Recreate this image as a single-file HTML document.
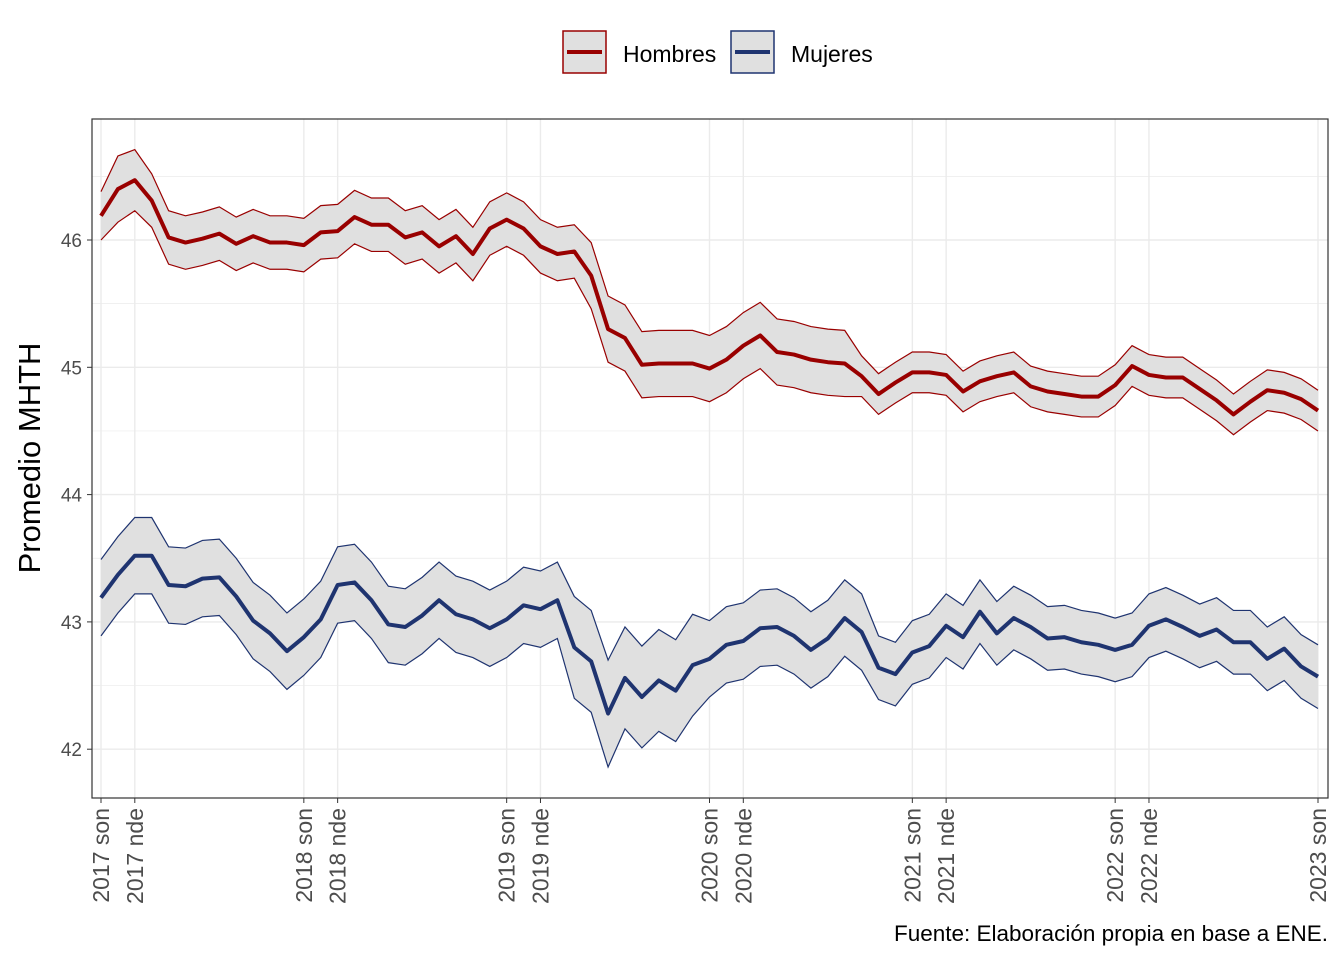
<!DOCTYPE html>
<html><head><meta charset="utf-8"><style>
body{margin:0;background:#fff;font-family:"Liberation Sans",sans-serif}
</style></head><body>
<svg id="chart" width="1344" height="960" xmlns="http://www.w3.org/2000/svg" font-family="Liberation Sans, sans-serif"></svg>
<script>
const periods=["2017 son","2017 nde","2018 son","2018 nde","2019 son","2019 nde","2020 son","2020 nde","2021 son","2021 nde","2022 son","2022 nde","2023 son"];
const periodIdx=[0,2,12,14,24,26,36,38,48,50,60,62,72];
const yTicks=[42,43,44,45,46];
const hombres=[46.19,46.40,46.47,46.31,46.02,45.98,46.01,46.05,45.97,46.03,45.98,45.98,45.96,46.06,46.07,46.18,46.12,46.12,46.02,46.06,45.95,46.03,45.89,46.09,46.16,46.09,45.95,45.89,45.91,45.72,45.30,45.23,45.02,45.03,45.03,45.03,44.99,45.06,45.17,45.25,45.12,45.10,45.06,45.04,45.03,44.93,44.79,44.88,44.96,44.96,44.94,44.81,44.89,44.93,44.96,44.85,44.81,44.79,44.77,44.77,44.86,45.01,44.94,44.92,44.92,44.83,44.74,44.63,44.73,44.82,44.80,44.75,44.66];
const hombresMargin=[0.19,0.26,0.24,0.21,0.21,0.21,0.21,0.21,0.21,0.21,0.21,0.21,0.21,0.21,0.21,0.21,0.21,0.21,0.21,0.21,0.21,0.21,0.21,0.21,0.21,0.21,0.21,0.21,0.21,0.26,0.26,0.26,0.26,0.26,0.26,0.26,0.26,0.26,0.26,0.26,0.26,0.26,0.26,0.26,0.26,0.16,0.16,0.16,0.16,0.16,0.16,0.16,0.16,0.16,0.16,0.16,0.16,0.16,0.16,0.16,0.16,0.16,0.16,0.16,0.16,0.16,0.16,0.16,0.16,0.16,0.16,0.16,0.16];
const mujeres=[43.19,43.37,43.52,43.52,43.29,43.28,43.34,43.35,43.20,43.01,42.91,42.77,42.88,43.02,43.29,43.31,43.17,42.98,42.96,43.05,43.17,43.06,43.02,42.95,43.02,43.13,43.10,43.17,42.80,42.69,42.28,42.56,42.41,42.54,42.46,42.66,42.71,42.82,42.85,42.95,42.96,42.89,42.78,42.87,43.03,42.92,42.64,42.59,42.76,42.81,42.97,42.88,43.08,42.91,43.03,42.96,42.87,42.88,42.84,42.82,42.78,42.82,42.97,43.02,42.96,42.89,42.94,42.84,42.84,42.71,42.79,42.65,42.57];
const mujeresMargin=[0.30,0.30,0.30,0.30,0.30,0.30,0.30,0.30,0.30,0.30,0.30,0.30,0.30,0.30,0.30,0.30,0.30,0.30,0.30,0.30,0.30,0.30,0.30,0.30,0.30,0.30,0.30,0.30,0.40,0.40,0.42,0.40,0.40,0.40,0.40,0.40,0.30,0.30,0.30,0.30,0.30,0.30,0.30,0.30,0.30,0.30,0.25,0.25,0.25,0.25,0.25,0.25,0.25,0.25,0.25,0.25,0.25,0.25,0.25,0.25,0.25,0.25,0.25,0.25,0.25,0.25,0.25,0.25,0.25,0.25,0.25,0.25,0.25];

const NS="http://www.w3.org/2000/svg";
const svg=document.getElementById('chart');
function mk(t,a,p){const e=document.createElementNS(NS,t);for(const k in a)e.setAttribute(k,a[k]);(p||svg).appendChild(e);return e;}
const L=92,R=1328,T=119,B=798;
const X=i=>101+i*(1318-101)/72;
const Y=v=>240+(46-v)*127.3;
for(let v=41.5;v<=46.5;v+=0.5){const y=Y(v);if(y<T||y>B)continue;const g=mk('line',{x1:L,x2:R,y1:y,y2:y,stroke:'#ebebeb','stroke-width':Number.isInteger(v)?1.4:0.7});}
periodIdx.forEach(i=>{const g=mk('line',{x1:X(i),x2:X(i),y1:T,y2:B,stroke:'#ebebeb','stroke-width':1.4});});
function series(vals,marg,col,name){
  let up=vals.map((v,i)=>X(i)+','+Y(v+marg[i]));
  let lo=vals.map((v,i)=>X(i)+','+Y(v-marg[i])).reverse();
  const band=mk('polygon',{points:up.concat(lo).join(' '),fill:'#e0e0e0'});
  
  const u=mk('polyline',{points:up.join(' '),fill:'none',stroke:col,'stroke-width':1.2});
  
  const l=mk('polyline',{points:lo.join(' '),fill:'none',stroke:col,'stroke-width':1.2});
  
  const m=mk('polyline',{points:vals.map((v,i)=>X(i)+','+Y(v)).join(' '),fill:'none',stroke:col,'stroke-width':4,'stroke-linejoin':'round'});
  
}
series(hombres,hombresMargin,'#990000','hombres');
series(mujeres,mujeresMargin,'#1f3470','mujeres');
const fr=mk('rect',{x:L,y:T,width:R-L,height:B-T,fill:'none',stroke:'#333','stroke-width':1.2});

yTicks.forEach(v=>{const y=Y(v);mk('line',{x1:L-5,x2:L,y1:y,y2:y,stroke:'#333'});
  const t=mk('text',{x:L-10,y:y+7,'text-anchor':'end','font-size':19,fill:'#4d4d4d'});t.textContent=v;
  });
periodIdx.forEach((i,k)=>{const x=X(i);mk('line',{x1:x,x2:x,y1:B,y2:B+5,stroke:'#333'});
  const t=mk('text',{x:0,y:0,'text-anchor':'end','font-size':23,fill:'#4d4d4d',transform:`translate(${x+8},${B+10}) rotate(-90)`});t.textContent=periods[k];
  });
const yt=mk('text',{x:0,y:0,'text-anchor':'middle','font-size':31,fill:'#000',transform:'translate(40,458) rotate(-90)'});yt.textContent='Promedio MHTH';

const cap=mk('text',{x:1328,y:941,'text-anchor':'end','font-size':22.5,fill:'#000'});cap.textContent='Fuente: Elaboración propia en base a ENE.';

[[563,'#990000','Hombres',623],[731,'#1f3470','Mujeres',791]].forEach(([x,c,lab,tx])=>{
  const g=mk('g',{});
  mk('rect',{x:x,y:31,width:43,height:42,fill:'#e0e0e0',stroke:c,'stroke-width':1.5},g);
  mk('line',{x1:x+4,x2:x+39,y1:52,y2:52,stroke:c,'stroke-width':4},g);
  const t=mk('text',{x:tx,y:62,'font-size':23,fill:'#000'},g);t.textContent=lab;
});
</script>
</body></html>
